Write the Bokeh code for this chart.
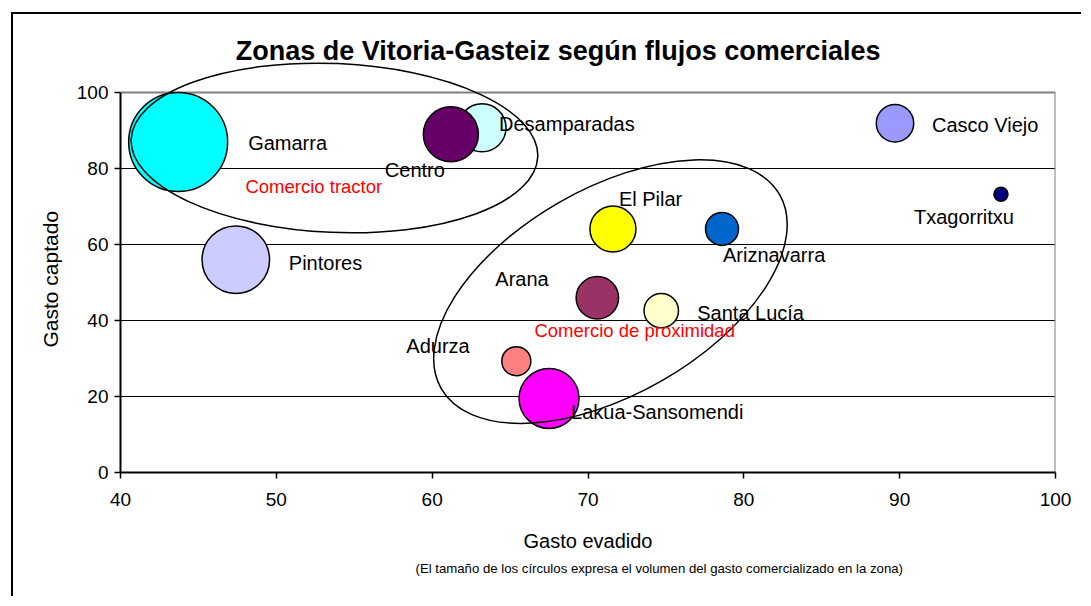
import math
from bokeh.plotting import figure
from bokeh.models import ColumnDataSource, Range1d, FixedTicker, Label, Title
from bokeh.core.properties import value
from bokeh.embed import file_html
from bokeh.resources import INLINE

# ---------------- data ----------------
zonas = ["Gamarra", "Desamparadas", "Centro", "Casco Viejo", "Txagorritxu",
         "El Pilar", "Ariznavarra", "Arana", "Santa Lucía", "Adurza",
         "Lakua-Sansomendi", "Pintores"]
gasto_evadido = [43.7, 63.2, 61.2, 89.7, 96.5, 71.6, 78.6, 70.6, 74.7, 65.4, 67.5, 47.4]
gasto_captado = [87.0, 90.7, 89.0, 91.9, 73.2, 64.1, 64.1, 46.0, 42.6, 29.3, 19.5, 56.0]
volumen = [100.0, 23.5, 30.9, 14.3, 2.0, 21.6, 11.1, 18.4, 12.1, 8.6, 36.7, 46.5]

titulo = "Zonas de Vitoria-Gasteiz según flujos comerciales"
eje_x = "Gasto evadido"
eje_y = "Gasto captado"
nota = "(El tamaño de los círculos expresa el volumen del gasto comercializado en la zona)"
x_ticks = [40, 50, 60, 70, 80, 90, 100]
y_ticks = [0, 20, 40, 60, 80, 100]

grupos = ["Comercio tractor", "Comercio de proximidad"]
grupo_x = [53.73, 71.44]
grupo_y = [85.4, 47.6]

# ---------------- styles / layout ----------------
colores = ["#00FFFF", "#CCFFFF", "#660066", "#9999FF", "#000080", "#FFFF00",
           "#0066CC", "#993366", "#FFFFCC", "#FF8080", "#FF00FF", "#CCCCFF"]
max_diam = 99.0
label_dx = [70, 17, -66, 37, -87, 6, 1, -102, 36, -110, 22, 53]
label_dy = [1, -4, 36, 2, 23, -30, 26, -19, 2, -15, 14, 3]
ell_w = [407, 390]
ell_h = [169, 206]
ell_angle = [-2.5, 29.8]
grupo_dx = [-89, -76]
grupo_dy = [39, 39]

FONT = "Liberation Sans"
W, H = 1070, 584

diam = [max_diam * math.sqrt(v / max(volumen)) for v in volumen]

src = ColumnDataSource(dict(x=gasto_evadido, y=gasto_captado, zona=zonas,
                            color=colores, size=diam, dx=label_dx, dy=label_dy))
gsrc = ColumnDataSource(dict(x=grupo_x, y=grupo_y, text=grupos, w=ell_w, h=ell_h,
                             a=[math.radians(a) for a in ell_angle],
                             dx=grupo_dx, dy=grupo_dy))

p = figure(width=W, height=H,
           x_range=Range1d(x_ticks[0], x_ticks[-1]),
           y_range=Range1d(y_ticks[0], 116.32),
           output_backend="svg", toolbar_location=None,
           min_border_left=107, min_border_right=28,
           min_border_top=16, min_border_bottom=126)
p.styles = {"border-left": "2px solid black", "border-top": "2px solid black",
            "margin-left": "11px", "margin-top": "12px"}
p.outline_line_color = None
p.background_fill_color = "white"
p.border_fill_color = "white"

# grid
p.xgrid.visible = False
p.ygrid.ticker = FixedTicker(ticks=y_ticks[1:-1])
p.ygrid.grid_line_color = "black"
p.ygrid.grid_line_width = 1

# axes
p.xaxis.ticker = FixedTicker(ticks=x_ticks)
p.yaxis.ticker = FixedTicker(ticks=y_ticks)
p.yaxis.bounds = (y_ticks[0], y_ticks[-1])
for ax in (p.xaxis[0], p.yaxis[0]):
    ax.major_tick_out = 6
    ax.major_tick_in = 0
    ax.minor_tick_line_color = None
    ax.axis_line_color = "black"
    ax.axis_line_width = 2
    ax.major_tick_line_color = "black"
    ax.major_tick_line_width = 1.5
    ax.major_label_text_font = FONT
    ax.major_label_text_font_size = "19px"
    ax.major_label_text_color = "black"
p.yaxis.major_label_standoff = 6
p.xaxis.major_label_standoff = 14
p.xaxis.axis_label = eje_x
p.xaxis.axis_label_text_font = FONT
p.xaxis.axis_label_text_font_size = "20px"
p.xaxis.axis_label_text_font_style = "normal"
p.xaxis.axis_label_text_color = "black"
p.xaxis.axis_label_standoff = 21

# y axis title and note as side titles
p.add_layout(Title(text=eje_y, align="left", offset=125, standoff=23,
                   text_font=FONT, text_font_size="21px", text_font_style="normal",
                   text_color="black"), "left")
p.add_layout(Title(text=nota, align="left", offset=295, standoff=9,
                   text_font=FONT, text_font_size="13.2px", text_font_style="normal",
                   text_color="black"), "below")

# plot-area border (top and right)
p.line(x=[x_ticks[0], x_ticks[-1], x_ticks[-1]], y=[y_ticks[-1], y_ticks[-1], y_ticks[0]],
       line_color="#808080", line_width=2)

# bubbles
p.scatter(x="x", y="y", size="size", marker="circle", source=src,
          fill_color="color", line_color="black", line_width=1.5)

# group ellipses
p.ellipse(x="x", y="y", width="w", height="h", angle="a", source=gsrc,
          width_units="screen", height_units="screen",
          fill_color=None, line_color="black", line_width=1.5)

# bubble labels
p.text(x="x", y="y", text="zona", x_offset="dx", y_offset="dy", source=src,
       text_font=value(FONT), text_font_size=value("20px"), text_color="black",
       text_align="left", text_baseline="alphabetic")

# group labels
p.text(x="x", y="y", text="text", x_offset="dx", y_offset="dy", source=gsrc,
       text_font=value(FONT), text_font_size=value("18.5px"), text_color="#FF0000",
       text_align="left", text_baseline="alphabetic")

# chart title
p.add_layout(Label(x=68.08, y=110.9, text=titulo, text_font=FONT, text_font_size="27px",
                   text_font_style="bold", text_align="center", text_baseline="alphabetic",
                   text_color="black"))

open("out.html", "w").write(file_html(p, INLINE))
